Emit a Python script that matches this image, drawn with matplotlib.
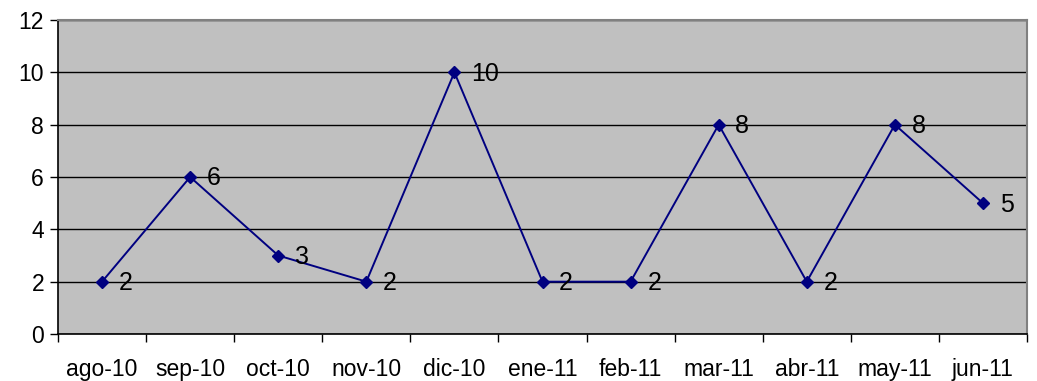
import numpy as np
import matplotlib.pyplot as plt

plt.rcParams['font.family'] = ['Liberation Sans', 'DejaVu Sans']

meses = ["ago-10", "sep-10", "oct-10", "nov-10", "dic-10", "ene-11",
         "feb-11", "mar-11", "abr-11", "may-11", "jun-11"]
valores = [2, 6, 3, 2, 10, 2, 2, 8, 2, 8, 5]

fig = plt.figure(figsize=(10.37, 3.81), dpi=100)
ax = fig.add_axes([58 / 1037, 47 / 381, 969 / 1037, 314 / 381])
ax.set_facecolor("#C0C0C0")

x = np.arange(len(meses))
ax.plot(x, valores, color="#000080", lw=1.4, marker="D", ms=6.5,
        mfc="#000080", mec="#000080", zorder=3)

for xi, v in zip(x, valores):
    ax.annotate(str(v), (xi, v), xytext=(12, -1), textcoords="offset points",
                ha="left", va="center", fontsize=18, color="black")

ax.set_xlim(-0.5, len(meses) - 0.5)
ax.set_ylim(0, 12)
ax.set_yticks(range(0, 13, 2))
ax.grid(axis="y", color="black", lw=1)
ax.set_axisbelow(True)

# ticks en los bordes de categoría, etiquetas centradas
ax.set_xticks(np.arange(-0.5, len(meses), 1))
ax.set_xticklabels([])
ax.set_xticks(x, minor=True)
ax.set_xticklabels(meses, minor=True)
ax.tick_params(axis="x", which="minor", length=0, pad=17, labelsize=16.5)
ax.tick_params(axis="x", which="major", length=6, width=1, direction="out")
ax.tick_params(axis="y", length=6, width=1, direction="out", labelsize=16.5, pad=4)

for s in ["top", "right"]:
    ax.spines[s].set_color("#808080")
    ax.spines[s].set_linewidth(1.5)
for s in ["left", "bottom"]:
    ax.spines[s].set_color("black")
    ax.spines[s].set_linewidth(1.2)

fig.savefig("out.png", dpi=100)
